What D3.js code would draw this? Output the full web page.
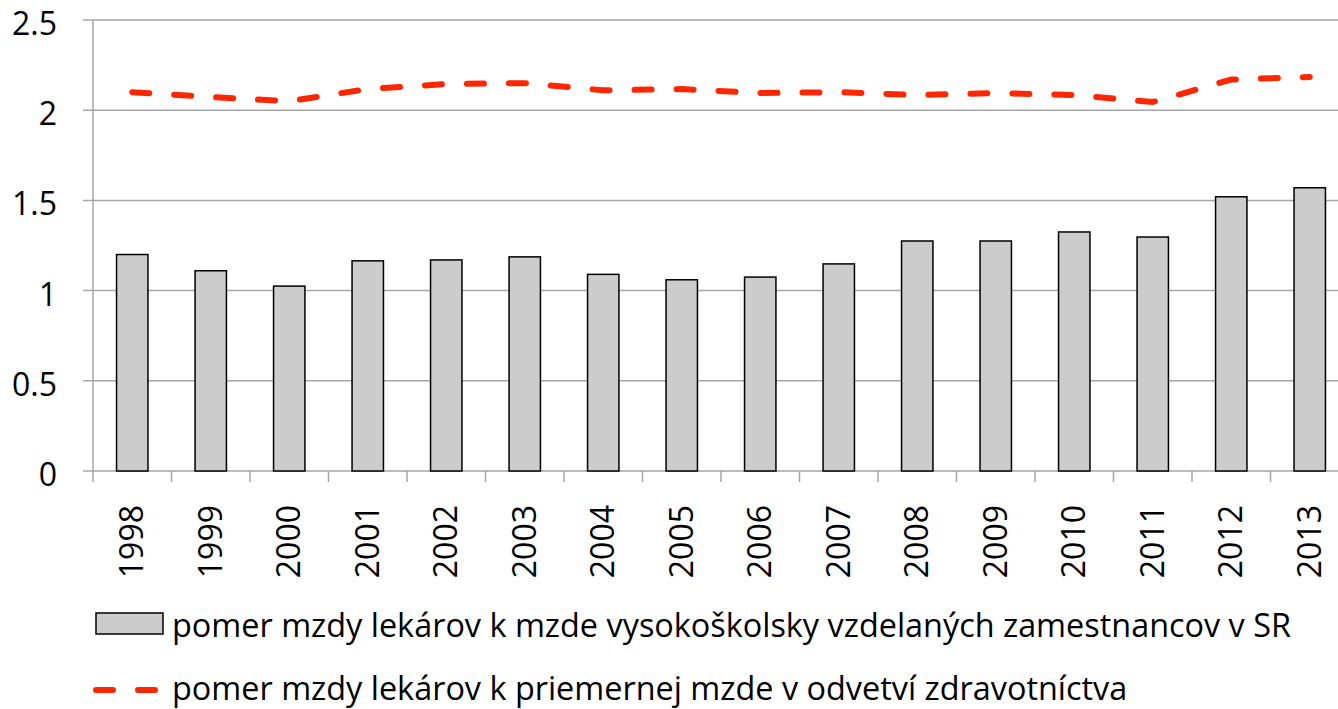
<!DOCTYPE html>
<html>
<head>
<meta charset="utf-8">
<script src="https://cdn.jsdelivr.net/npm/d3@7"></script>
<style>
  body { margin: 0; background: #fff; }
  svg text { font-family: "Open Sans", Lato, sans-serif; fill: #000; }
</style>
</head>
<body>
<div id="chart"></div>
<script>
// data
var years = ["1998","1999","2000","2001","2002","2003","2004","2005","2006","2007","2008","2009","2010","2011","2012","2013"];
var ratioUni = [1.20, 1.11, 1.025, 1.165, 1.17, 1.187, 1.09, 1.06, 1.075, 1.148, 1.275, 1.275, 1.325, 1.297, 1.52, 1.57];
var ratioHealth = [2.10, 2.073, 2.05, 2.117, 2.145, 2.15, 2.11, 2.117, 2.095, 2.10, 2.084, 2.095, 2.084, 2.045, 2.17, 2.184];
var yTicks = [0, 0.5, 1, 1.5, 2, 2.5];
var legendLabels = [
    "pomer mzdy lekárov k mzde vysokoškolsky vzdelaných zamestnancov v SR",
    "pomer mzdy lekárov k priemernej mzde v odvetví zdravotníctva"
];

var width = 1338, height = 709;
// plot area (right edge runs past the picture, as in the original)
var plotL = 93, plotR = 1349, plotT = 20, plotB = 471;
var gridCol = "#a6a6a6";

var svg = d3.select("#chart").append("svg")
    .attr("width", width)
    .attr("height", height);

var x = d3.scaleBand().domain(years).range([plotL, plotR]).paddingInner(0).paddingOuter(0);
var y = d3.scaleLinear().domain([0, 2.5]).range([plotB, plotT]);

// horizontal gridlines
svg.append("g").selectAll("line")
    .data(yTicks)
    .enter().append("line")
    .attr("x1", plotL - 10)
    .attr("x2", plotR)
    .attr("y1", function(d) { return y(d); })
    .attr("y2", function(d) { return y(d); })
    .style("stroke", gridCol)
    .style("stroke-width", 1.5);

// y axis line
svg.append("line")
    .attr("x1", plotL).attr("x2", plotL)
    .attr("y1", plotT).attr("y2", plotB)
    .style("stroke", gridCol).style("stroke-width", 1.5);

// y tick labels
svg.append("g").selectAll("text")
    .data(yTicks)
    .enter().append("text")
    .attr("x", 57)
    .attr("y", function(d) { return y(d) + 15; })
    .style("text-anchor", "end")
    .style("font-size", "32px")
    .text(function(d) { return d; });

// x tick marks
var bounds = years.map(function(d) { return x(d); }).concat([plotR]);
svg.append("g").selectAll("line")
    .data(bounds)
    .enter().append("line")
    .attr("x1", function(d) { return d; })
    .attr("x2", function(d) { return d; })
    .attr("y1", plotB)
    .attr("y2", plotB + 11)
    .style("stroke", gridCol)
    .style("stroke-width", 1.5);

// bars
var bw = x.bandwidth() * 0.4;
svg.append("g").selectAll("rect")
    .data(ratioUni)
    .enter().append("rect")
    .attr("x", function(d, i) { return x(years[i]) + x.bandwidth() / 2 - bw / 2; })
    .attr("y", function(d) { return y(d); })
    .attr("width", bw)
    .attr("height", function(d) { return plotB - y(d); })
    .style("fill", "#cccccc")
    .style("stroke", "#000")
    .style("stroke-width", 1.5);

// dashed line
var line = d3.line()
    .x(function(d, i) { return x(years[i]) + x.bandwidth() / 2; })
    .y(function(d) { return y(d); });

svg.append("path")
    .datum(ratioHealth)
    .attr("d", line)
    .style("fill", "none")
    .style("stroke", "#ff2600")
    .style("stroke-width", 6)
    .style("stroke-linecap", "round")
    .style("stroke-dasharray", "17,25");

// x labels, rotated
svg.append("g").selectAll("text")
    .data(years)
    .enter().append("text")
    .attr("transform", function(d) {
        return "translate(" + (x(d) + x.bandwidth() / 2 + 11) + "," + 505 + ") rotate(-90)";
    })
    .style("text-anchor", "end")
    .style("font-size", "32px")
    .text(function(d) { return d; });

// legend
svg.append("rect")
    .attr("x", 96).attr("y", 613)
    .attr("width", 67).attr("height", 21)
    .style("fill", "#cccccc")
    .style("stroke", "#000")
    .style("stroke-width", 1.5);

svg.append("line")
    .attr("x1", 96).attr("x2", 160)
    .attr("y1", 690).attr("y2", 690)
    .style("stroke", "#ff2600")
    .style("stroke-width", 6)
    .style("stroke-linecap", "round")
    .style("stroke-dasharray", "17,25");

svg.append("g").selectAll("text")
    .data(legendLabels)
    .enter().append("text")
    .attr("x", 172)
    .attr("y", function(d, i) { return 637 + i * 63; })
    .style("font-size", "32.4px")
    .text(function(d) { return d; });
</script>
</body>
</html>
